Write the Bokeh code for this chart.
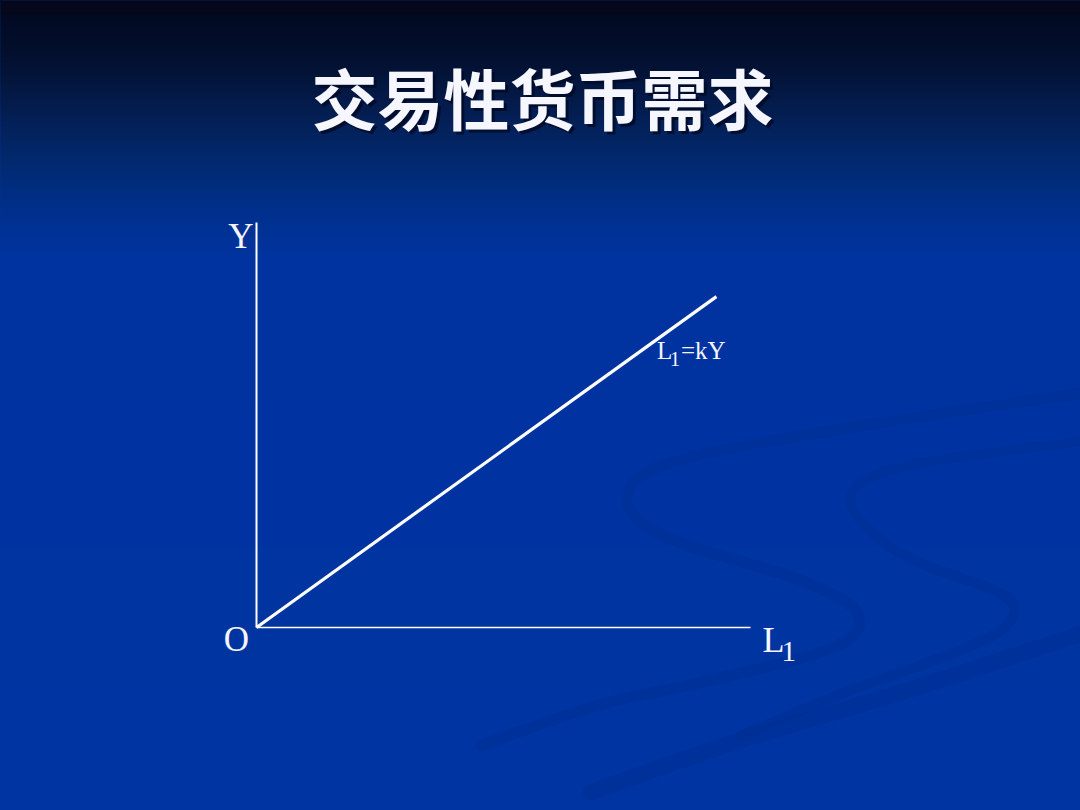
import numpy as np
from bokeh.plotting import figure
from bokeh.models import Range1d
from bokeh.core.properties import value
from bokeh.embed import file_html
from bokeh.resources import INLINE

# ---------------- data ----------------
title_text = "交易性货币需求"
axis_L1 = [0.0, 10.0]        # horizontal axis (L1) extent
axis_Y = [0.0, 10.0]         # vertical axis (Y) extent
curve_L1 = [0.0, 9.31]       # L1 = kY line, L1 values
curve_Y = [0.0, 8.17]        # L1 = kY line, Y values
x_axis_label = ["L", "1"]
y_axis_label = "Y"
origin_label = "O"
curve_label = ["L", "1", "=kY"]

# ---------------- layout ----------------
W, H = 1080, 810
M = 0
OX, OY = 256.0, 627.0        # origin position on the slide (px)
PX_X, PX_Y = 49.4, 40.5      # px per data unit


def sx(px):
    return (px - OX) / PX_X


def sy(py):
    return (OY - py) / PX_Y


BG = "#0034a0"
p = figure(width=W, height=H,
           x_range=Range1d(sx(M), sx(M + W)),
           y_range=Range1d(sy(M + H), sy(M)),
           output_backend="svg", toolbar_location=None,
           x_axis_type=None, y_axis_type=None, min_border=0,
           outline_line_color=None,
           background_fill_color=BG, border_fill_color=BG)

# background gradient (slide decoration)
stops_y = [-10, 13, 15, 60, 110, 160, 210, 260, 830]
stops_c = ["#05071a", "#05071a", "#020a22", "#031030", "#041d50",
           "#02296f", "#00308d", "#0033a0", "#0034a2"]
NR = 840
rows = np.arange(NR) - 10 + 0.5
chan = []
for k in range(3):
    vals = [int(c[1 + 2 * k:3 + 2 * k], 16) for c in stops_c]
    chan.append(np.interp(rows, stops_y, vals))
img = np.zeros((NR, 2, 4), dtype=np.uint8)
for k in range(3):
    img[:, :, k] = np.round(chan[k])[:, None]
img[:, :, 3] = 255
img = img[::-1].copy()
img32 = img.view(dtype=np.uint32).reshape((NR, 2))
p.image_rgba(image=[img32], x=sx(-20), y=sy(830), dw=1120 / PX_X, dh=NR / PX_Y)


# faint swirl bands
def smooth(pts, n=24):
    P = np.array(pts, float)
    P = np.vstack([P[0], P, P[-1]])
    out = []
    for i in range(1, len(P) - 2):
        p0, p1, p2, p3 = P[i - 1], P[i], P[i + 1], P[i + 2]
        for t in np.linspace(0, 1, n, endpoint=False):
            t2, t3 = t * t, t * t * t
            out.append(0.5 * ((2 * p1) + (-p0 + p2) * t +
                              (2 * p0 - 5 * p1 + 4 * p2 - p3) * t2 +
                              (-p0 + 3 * p1 - 3 * p2 + p3) * t3))
    out.append(P[-2])
    return np.array(out)


bands = [
    ([(1085, 392), (833, 430), (667, 463), (627, 500), (667, 537), (800, 580),
      (857, 613), (833, 647), (700, 682), (600, 704), (480, 745)], 11),
    ([(1085, 440), (900, 467), (850, 500), (900, 553), (1000, 593), (1010, 620),
      (967, 647), (850, 690), (740, 735)], 10),
    ([(1085, 632), (900, 692), (733, 742), (590, 792)], 16),
]
for pts, lw in bands:
    c = smooth(pts)
    p.line(sx(c[:, 0]), sy(c[:, 1]), line_color="#002a88", line_alpha=0.28,
           line_width=lw, line_cap="round", line_join="round")

# axes
p.line([axis_L1[0], axis_L1[1]], [0, 0], line_color="white", line_width=1.3)
p.line([0, 0], [axis_Y[0], axis_Y[1]], line_color="white", line_width=2)
# L1 = kY
p.line(curve_L1, curve_Y, line_color="white", line_width=3.2)

serif = value("Liberation Serif")
TXT = "#f4f4ff"
# Y label
p.text([0], [axis_Y[1]], text=[y_axis_label], text_font=serif,
       text_font_size="35px", text_color=TXT, text_align="center",
       text_baseline="alphabetic", x_offset=-15.5, y_offset=14)
# O label
p.text([0], [0], text=[origin_label], text_font=serif,
       text_font_size="35px", text_color=TXT, text_align="center",
       text_baseline="alphabetic", x_offset=-20, y_offset=12)
# L1 axis label
p.text([axis_L1[1]], [0], text=[x_axis_label[0]], text_font=serif,
       text_font_size="36px", text_color=TXT, text_align="left",
       text_baseline="alphabetic", x_offset=12, y_offset=12)
p.text([axis_L1[1]], [0], text=[x_axis_label[1]], text_font=serif,
       text_font_size="29px", text_color=TXT, text_align="left",
       text_baseline="alphabetic", x_offset=31, y_offset=24)
# curve label
p.text([curve_L1[1]], [curve_Y[1]], text=[curve_label[0]], text_font=serif,
       text_font_size="25px", text_color=TXT, text_align="left",
       text_baseline="alphabetic", x_offset=-59.5, y_offset=54)
p.text([curve_L1[1]], [curve_Y[1]], text=[curve_label[1]], text_font=serif,
       text_font_size="20px", text_color=TXT, text_align="left",
       text_baseline="alphabetic", x_offset=-46.5, y_offset=62)
p.text([curve_L1[1]], [curve_Y[1]], text=[curve_label[2]], text_font=serif,
       text_font_size="25px", text_color=TXT, text_align="left",
       text_baseline="alphabetic", x_offset=-35.5, y_offset=54)

# title with shadow
cjk = value("Noto Sans CJK SC")
p.text([sx(545)], [sy(98)], text=[title_text], text_font=cjk,
       text_font_size="66px", text_font_style="bold", text_color="#000a28",
       text_alpha=0.85, text_align="center", text_baseline="middle")
p.text([sx(542)], [sy(95)], text=[title_text], text_font=cjk,
       text_font_size="66px", text_font_style="bold", text_color="#f6f6ff",
       text_align="center", text_baseline="middle")

template = """
{% block postamble %}
<style>
html { background: linear-gradient(#05071a 0px, #05071a 13px, #020a22 15px, #031030 60px,
        #041d50 110px, #02296f 160px, #00308d 210px, #0033a0 260px, #0034a2 810px) no-repeat;
       background-color: #0034a2; }
body { background: transparent; }
</style>
{% endblock %}
"""

open("out.html", "w").write(file_html(p, INLINE, title="交易性货币需求", template=template))
